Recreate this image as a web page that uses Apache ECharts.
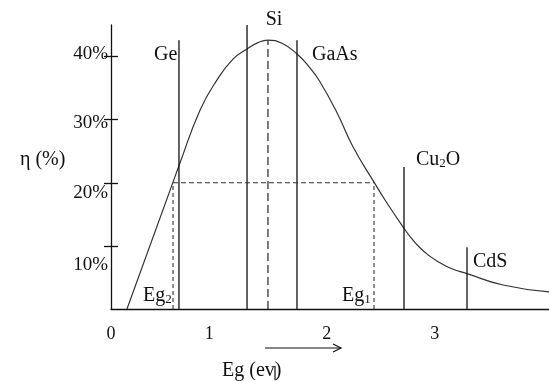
<!DOCTYPE html>
<html>
<head>
<meta charset="utf-8">
<script src="https://cdn.jsdelivr.net/npm/echarts@6/dist/echarts.min.js"></script>
<style>
  html, body { margin: 0; padding: 0; background: #fff; }
  #chart { width: 549px; height: 381px; }
</style>
</head>
<body>
<div id="chart"></div>
<script>
// efficiency curve, eta (%) against Eg (eV)
const curveX = [0.148, 0.575, 0.630, 0.825, 0.983, 1.131, 1.261, 1.363, 1.455, 1.585, 1.724, 1.844, 1.937, 2.095, 2.243, 2.438, 2.558, 2.716, 2.790, 2.864, 2.938, 3.022, 3.142, 3.300, 3.634, 4.060];
const curveY = [0.0, 20.1, 22.7, 31.5, 36.3, 39.6, 41.2, 42.2, 42.6, 42.1, 40.4, 38.2, 36.0, 31.1, 25.7, 20.1, 16.8, 12.8, 11.1, 9.7, 8.6, 7.6, 6.5, 5.6, 3.8, 2.7];

// solid material lines (Ge, ?, GaAs, Cu2O, CdS)
const solidX = [0.630, 1.261, 1.724, 2.716, 3.300];
const solidTop = [42.6, 45, 42.6, 22.5, 9.8];

// Si optimum (dashed)
const siX = 1.455;
const siTop = 42.6;

// Eg2 / Eg1 at 20 %
const egX = [0.575, 2.438];
const egLevel = 20;

// tick labels
const xTickPos = [0, 0.91, 2, 3];
const xTickText = ['0', '1', '2', '3'];
const yTickPos = [10, 20, 30, 40];
const yLabelPos = [40.4, 29.5, 18.3, 7.0];
const yLabelText = ['40%', '30%', '20%', '10%'];

const FONT = 'Liberation Serif';
const INK = '#111';

const chart = echarts.init(document.getElementById('chart'));

const lineSeries = (data, style) => ({
  type: 'line',
  data: data,
  symbol: 'none',
  silent: true,
  animation: false,
  lineStyle: Object.assign({ color: INK, width: 1.3 }, style),
});

const series = [];
series.push(lineSeries(curveX.map((x, i) => [x, curveY[i]]), { color: '#333', width: 1.2 }));
series[0].smooth = 0.5;

solidX.forEach((x, i) => {
  series.push(lineSeries([[x, 0], [x, solidTop[i]]], {}));
});
series.push(lineSeries([[siX, 0], [siX, siTop]], { type: [8, 4], color: '#333' }));
egX.forEach((x) => {
  series.push(lineSeries([[x, 0], [x, egLevel]], { type: [4, 3], width: 1.1, color: '#333' }));
});
series.push(lineSeries([[egX[0], egLevel], [egX[1], egLevel]], { type: [5, 3], width: 1.1, color: '#333' }));

const txt = (x, y, text, extra) => ({
  type: 'text',
  x: x,
  y: y,
  silent: true,
  style: Object.assign({
    text: text,
    fontFamily: FONT,
    fontSize: 20,
    fill: INK,
    textAlign: 'left',
    textVerticalAlign: 'middle',
  }, extra || {}),
});

const subRich = {
  n: { fontFamily: FONT, fontSize: 20, fill: INK, verticalAlign: 'bottom', lineHeight: 20 },
  s: { fontFamily: FONT, fontSize: 13, fill: INK, verticalAlign: 'bottom', lineHeight: 14 },
};

chart.setOption({
  animation: false,
  grid: { left: 111, right: 0, top: 25, bottom: 72, outerBoundsMode: 'none' },
  xAxis: {
    type: 'value',
    min: 0,
    max: 4.06,
    splitLine: { show: false },
    axisLine: { show: true, lineStyle: { color: INK, width: 1.3 } },
    axisTick: { show: false },
    axisLabel: {
      customValues: xTickPos,
      formatter: (v) => xTickText[xTickPos.indexOf(v)],
      fontFamily: FONT,
      fontSize: 18,
      color: INK,
      margin: 16,
    },
  },
  yAxis: [
    {
      type: 'value',
      min: 0,
      max: 45,
      position: 'left',
      offset: 0,
      splitLine: { show: false },
      axisLine: { show: true, lineStyle: { color: INK, width: 1.3 } },
      axisTick: { show: true, customValues: yTickPos, length: 7, lineStyle: { color: INK, width: 1.3 } },
      axisLabel: {
        customValues: yLabelPos,
        formatter: (v) => yLabelText[yLabelPos.indexOf(v)],
        fontFamily: FONT,
        fontSize: 19,
        color: INK,
        margin: 3,
      },
    },
    {
      type: 'value',
      min: 0,
      max: 45,
      position: 'left',
      offset: 0,
      splitLine: { show: false },
      axisLine: { show: false },
      axisTick: { show: true, inside: true, customValues: yTickPos, length: 7, lineStyle: { color: INK, width: 1.3 } },
      axisLabel: { show: false },
    },
  ],
  series: series,
  graphic: [
    txt(274, 20, 'Si', { textAlign: 'center' }),
    txt(154, 55, 'Ge'),
    txt(312, 55, 'GaAs'),
    txt(416, 160, '{n|Cu}{s|2}{n|O}', { rich: subRich }),
    txt(473, 262, 'CdS'),
    txt(143, 296, '{n|Eg}{s|2}', { rich: subRich }),
    txt(342, 296, '{n|Eg}{s|1}', { rich: subRich }),
    txt(20, 160, 'η (%)'),
    txt(222, 371, 'Eg (ev)'),
    { type: 'line', silent: true, shape: { x1: 275, y1: 366, x2: 275, y2: 380 }, style: { stroke: INK, lineWidth: 1.2 } },
    { type: 'line', silent: true, shape: { x1: 265, y1: 348, x2: 341, y2: 348 }, style: { stroke: INK, lineWidth: 1.2 } },
    { type: 'polyline', silent: true, shape: { points: [[333, 344], [341, 348], [333, 352]] }, style: { stroke: INK, lineWidth: 1.2, fill: null } },
  ],
});
</script>
</body>
</html>
